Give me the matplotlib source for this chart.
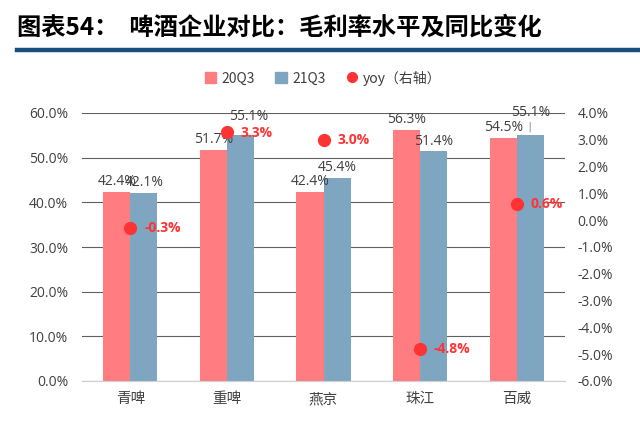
import numpy as np
import matplotlib.pyplot as plt
from matplotlib.lines import Line2D
from matplotlib.patches import Patch

plt.rcParams['font.family'] = ['Noto Sans CJK SC', 'DejaVu Sans']

companies = ['青啤', '重啤', '燕京', '珠江', '百威']
gm_20q3 = [42.4, 51.7, 42.4, 56.3, 54.5]
gm_21q3 = [42.1, 55.1, 45.4, 51.4, 55.1]
yoy = [-0.3, 3.3, 3.0, -4.8, 0.6]

pink = '#FF7C80'
blue = '#7EA6C0'
red = '#FF3333'
txt = '#404040'
num_font = ['Open Sans', 'DejaVu Sans']

fig = plt.figure(figsize=(6.4, 4.22), dpi=100)
ax = fig.add_axes([82 / 640, 1 - 381 / 422, 483 / 640, 268 / 422])

x = np.arange(len(companies))
w = 0.28
ax.bar(x - w / 2, gm_20q3, w, color=pink, zorder=2)
ax.bar(x + w / 2, gm_21q3, w, color=blue, zorder=2)

ax.set_xlim(-0.5, len(companies) - 0.5)
ax.set_ylim(0, 60)
ax.set_yticks(np.arange(0, 61, 10))
ax.set_yticklabels([f'{v:.1f}%' for v in np.arange(0, 61, 10)], fontsize=10, color=txt, family=num_font)
ax.tick_params(axis='y', length=0, pad=10)
ax.set_xticks(x)
ax.set_xticklabels(companies, fontsize=10.5, color=txt)
ax.tick_params(axis='x', length=0, pad=8)
ax.grid(axis='y', color='#606060', linewidth=0.8, zorder=0)
for s in ['left', 'right', 'top']:
    ax.spines[s].set_visible(False)
ax.spines['bottom'].set_color('#D0D0D0')

# value labels (a couple are nudged like in the source chart)
for i, (v1, v2) in enumerate(zip(gm_20q3, gm_21q3)):
    ax.annotate(f'{v1:.1f}%', xy=(i - w / 2, v1), xytext=(0, 2), textcoords='offset points',
                ha='center', va='bottom', fontsize=10, color=txt, family=num_font)
    if i == 4:
        ax.annotate(f'{v2:.1f}%', xy=(i + w / 2, v2), xytext=(0, 11), textcoords='offset points',
                    ha='center', va='bottom', fontsize=10, color=txt, family=num_font,
                    arrowprops=dict(arrowstyle='-', color='#A0A0A0', lw=0.8, shrinkA=0, shrinkB=2))
    elif i == 1:
        ax.annotate(f'{v2:.1f}%', xy=(i + w / 2, v2), xytext=(6, 8), textcoords='offset points',
                    ha='center', va='bottom', fontsize=10, color=txt, family=num_font)
    else:
        ax.annotate(f'{v2:.1f}%', xy=(i + w / 2, v2), xytext=(0, 2), textcoords='offset points',
                    ha='center', va='bottom', fontsize=10, color=txt, family=num_font)

ax2 = ax.twinx()
ax2.set_ylim(-6, 4)
ax2.set_yticks(np.arange(-6, 5, 1))
ax2.set_yticklabels([f'{v:.1f}%' for v in np.arange(-6, 5, 1)], fontsize=10, color=txt, family=num_font)
ax2.tick_params(axis='y', length=0, pad=9)
for s in ['left', 'right', 'top', 'bottom']:
    ax2.spines[s].set_visible(False)
ax2.plot(x, yoy, 'o', color=red, markersize=8.5, zorder=3)
for i, v in enumerate(yoy):
    ax2.annotate(f'{v:.1f}%', xy=(i, v), xytext=(10, -1 if i == 1 else 0), textcoords='offset points',
                 ha='left', va='center', fontsize=10, color=red, fontweight='bold', family=num_font)

handles = [Patch(color=pink), Patch(color=blue),
           Line2D([], [], marker='o', color=red, linestyle='none', markersize=7)]
fig.legend(handles, ['20Q3', '21Q3', 'yoy（右轴）'], loc='center', bbox_to_anchor=(323 / 640, 1 - 78 / 422),
           ncol=3, frameon=False, fontsize=10, handlelength=0.8, handleheight=0.8,
           handletextpad=0.4, columnspacing=1.5, labelcolor=txt)

fig.text(17 / 640, 1 - 28 / 422, '图表54：  啤酒企业对比：毛利率水平及同比变化', fontsize=17.5,
         fontweight='bold', va='center', ha='left', color='black')
fig.add_artist(Line2D([17 / 640, 1], [1 - 50 / 422, 1 - 50 / 422], color='#17507F', linewidth=3.2))

fig.savefig('out.png', dpi=100)
